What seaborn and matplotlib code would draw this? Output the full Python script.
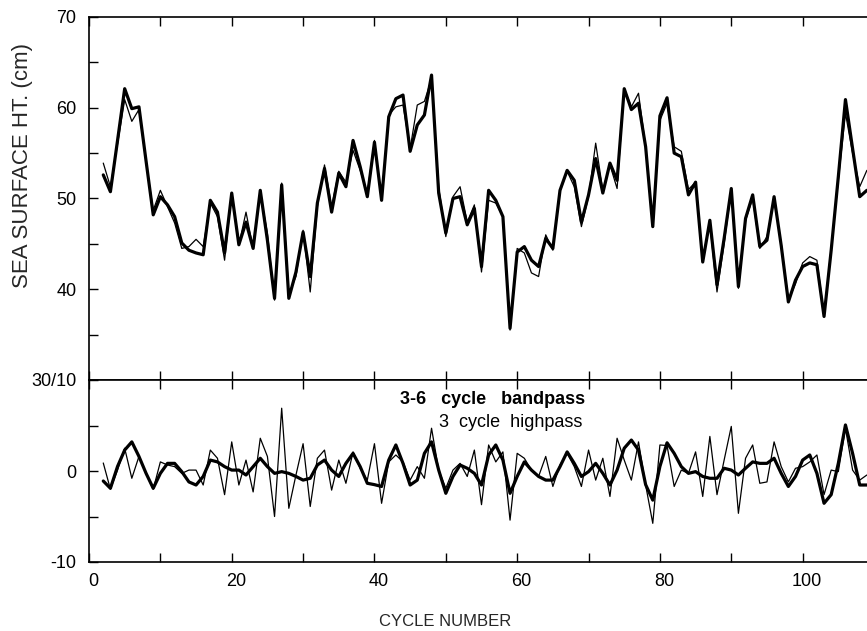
import numpy as np
import pandas as pd
import matplotlib
matplotlib.use("Agg")
import matplotlib.pyplot as plt
import matplotlib.transforms as mtransforms
from matplotlib.ticker import FixedLocator, MultipleLocator
import seaborn as sns

# ---------------- data ----------------
cycles = list(range(2, 110))

sea_thick = [52.6, 50.75, 56.4, 62.1, 59.9, 60.1, 54.1, 48.2, 50.2, 49.3,
             48.0, 45.1, 44.3, 44.0, 43.8, 49.8, 48.5, 44.0, 50.6, 44.9,
             47.4, 44.5, 50.9, 45.4, 39.0, 51.5, 39.0, 41.9, 46.3, 41.4,
             49.5, 53.3, 48.5, 52.8, 51.3, 56.4, 53.5, 50.2, 56.2, 49.8,
             59.0, 61.0, 61.4, 55.2, 58.1, 59.2, 63.6, 50.6, 46.2, 50.0,
             50.2, 47.1, 48.9, 42.5, 50.9, 49.8, 48.0, 35.7, 44.1, 44.7,
             43.2, 42.5, 45.6, 44.5, 50.9, 53.1, 52.0, 47.4, 50.4, 54.4,
             50.6, 53.9, 52.0, 62.1, 59.8, 60.5, 55.7, 46.9, 59.1, 61.1,
             55.0, 54.6, 50.4, 51.8, 43.0, 47.6, 40.5, 45.6, 51.1, 40.3,
             47.8, 50.4, 44.7, 45.4, 50.2, 44.8, 38.6, 41.0, 42.5, 42.9,
             42.7, 37.0, 44.3, 52.4, 60.9, 55.5, 50.2, 50.9]

sea_thin = [53.9, 51.3, 56.0, 60.9, 58.5, 59.8, 54.0, 48.7, 50.9, 49.1,
            47.3, 44.5, 44.7, 45.5, 44.7, 49.5, 48.0, 43.2, 50.6, 44.9,
            48.5, 44.5, 50.6, 46.2, 38.8, 51.7, 39.5, 41.4, 46.5, 39.7,
            49.1, 53.7, 49.1, 53.0, 51.8, 55.3, 53.1, 50.6, 56.4, 49.8,
            59.2, 60.1, 60.3, 55.5, 60.3, 60.7, 63.2, 51.3, 45.8, 50.2,
            51.3, 47.4, 49.3, 41.9, 49.8, 49.5, 48.0, 35.5, 44.5, 44.0,
            41.8, 41.4, 46.0, 44.3, 50.8, 53.0, 51.3, 46.9, 50.2, 56.1,
            50.9, 53.7, 51.1, 62.1, 60.1, 61.6, 55.7, 47.3, 58.6, 60.5,
            55.7, 55.2, 51.0, 51.8, 43.3, 47.2, 39.7, 45.0, 51.0, 40.1,
            47.6, 50.0, 44.5, 45.8, 49.8, 45.0, 38.8, 40.6, 42.9, 43.6,
            43.2, 37.2, 44.5, 52.0, 59.4, 55.0, 51.3, 53.1]

bandpass_3_6 = [-1.1, -1.9, 0.5, 2.3, 3.2, 1.6, -0.26, -1.9, -0.26, 0.84,
                0.84, -0.07, -1.2, -1.54, -0.6, 1.2, 1.0, 0.48, 0.1, 0.1,
                -0.44, 0.48, 1.4, 0.48, -0.26, -0.07, -0.26, -0.6, -1.0, -0.8,
                0.66, 1.2, 0.1, -0.6, 0.84, 1.94, 0.48, -1.35, -1.5, -1.7,
                1.2, 2.86, 0.84, -1.54, -1.0, 1.94, 3.2, 0.1, -2.45, -0.6,
                0.66, 0.3, -0.26, -1.54, 1.76, 2.86, 1.2, -2.45, -0.6, 1.0,
                0.1, -0.6, -1.0, -1.0, 0.48, 2.1, 0.84, -0.6, -0.07, 0.84,
                -0.26, -1.54, 0.1, 2.5, 3.4, 2.3, -1.5, -3.2, 0.5, 3.1,
                1.94, 0.48, -0.26, -0.07, -0.6, -0.8, -0.8, 0.3, 0.1, -0.44,
                0.3, 1.0, 0.84, 0.84, 1.4, -0.26, -1.7, -0.6, 1.2, 1.76,
                -0.26, -3.55, -2.6, 0.84, 5.06, 1.94, -1.54, -1.54]

highpass_3 = [0.88, -2.0, 0.1, 2.5, -0.8, 1.6, -0.3, -2.0, 1.0, 0.66,
              0.48, -0.26, 0.1, 0.1, -1.54, 2.3, 1.4, -2.6, 3.2, -1.54,
              1.2, -2.3, 3.6, 1.6, -5.0, 6.9, -4.1, -0.44, 3.0, -3.9,
              1.4, 2.3, -2.1, 1.2, -1.35, 2.1, 0.3, -1.0, 3.0, -3.55,
              1.0, 1.76, 1.0, -1.0, 0.48, -0.8, 4.7, 0.1, -1.9, 0.1,
              0.84, -0.6, 2.3, -3.7, 2.86, 1.0, 2.1, -5.4, 1.94, 1.4,
              0.1, -0.6, 1.6, -1.7, 0.66, 1.94, 0.48, -1.7, 2.3, -1.0,
              1.4, -2.8, 3.6, 1.2, -1.0, 3.2, -1.54, -5.75, 2.86, 2.8,
              -1.7, 0.1, -0.26, 2.1, -2.8, 3.8, -2.6, 1.2, 4.9, -4.65,
              1.4, 2.86, -1.35, -1.2, 3.2, 0.48, -1.2, 0.3, 0.48, 1.0,
              1.76, -2.6, 0.1, -0.07, 4.7, 0.1, -1.0, -0.44]

top_yticks = [30, 40, 50, 60, 70]
top_yticklabels = ["30/10", "40", "50", "60", "70"]
bot_yticks = [-10, 0, 10]
bot_yticklabels = ["-10", "0", ""]
bot_xticks = [0, 20, 40, 60, 80, 100]
bot_xticklabels = ["0", "20", "40", "60", "80", "100"]

# ---------------- style ----------------
sns.set_theme(style="ticks")
plt.rcParams['font.family'] = ['Liberation Sans', 'DejaVu Sans']
plt.rcParams['axes.edgecolor'] = 'black'
plt.rcParams['xtick.color'] = 'black'
plt.rcParams['ytick.color'] = 'black'
plt.rcParams['text.color'] = 'black'

W, H = 867, 631
fig = plt.figure(figsize=(W / 100, H / 100), dpi=100)
fig.patch.set_facecolor('white')

x0_px, x1_px = 89, 874          # axes extend slightly past the right edge (cropped)
top_px, mid_px, bot_px = 17, 380, 562
ax1 = fig.add_axes([x0_px / W, 1 - mid_px / H, (x1_px - x0_px) / W, (mid_px - top_px) / H])
ax2 = fig.add_axes([x0_px / W, 1 - bot_px / H, (x1_px - x0_px) / W, (bot_px - mid_px) / H])

df_top = pd.DataFrame({"cycle": cycles, "thick": sea_thick, "thin": sea_thin})
df_bot = pd.DataFrame({"cycle": cycles, "band": bandpass_3_6, "high": highpass_3})

sns.lineplot(data=df_top, x="cycle", y="thin", ax=ax1, color="black",
             linewidth=0.9, estimator=None)
sns.lineplot(data=df_top, x="cycle", y="thick", ax=ax1, color="black",
             linewidth=2.3, estimator=None)
sns.lineplot(data=df_bot, x="cycle", y="high", ax=ax2, color="black",
             linewidth=0.9, estimator=None)
sns.lineplot(data=df_bot, x="cycle", y="band", ax=ax2, color="black",
             linewidth=2.3, estimator=None)

for ax in (ax1, ax2):
    ax.set_xlim(0, 110)
    ax.set_facecolor('white')
    for s in ax.spines.values():
        s.set_linewidth(1.2)
        s.set_color('black')
    ax.set_xlabel("")
    ax.set_ylabel("")
    ax.tick_params(axis='both', which='both', direction='in', length=6.5,
                   width=1.0, top=True, bottom=True, left=True, right=False,
                   labelsize=13, colors='black')
    ax.tick_params(axis='y', pad=9)

# top panel
ax1.set_ylim(30, 70)
ax1.yaxis.set_major_locator(FixedLocator(top_yticks))
ax1.set_yticklabels(top_yticklabels)
ax1.yaxis.set_minor_locator(MultipleLocator(5))
ax1.xaxis.set_major_locator(MultipleLocator(10))
ax1.tick_params(axis='x', labelbottom=False, labeltop=False)
ax1.set_ylabel("SEA SURFACE HT. (cm)", fontsize=16, va='center')
ax1.yaxis.set_label_coords(-0.085, 0.59)

# bottom panel
ax2.set_ylim(-10, 10)
ax2.yaxis.set_major_locator(FixedLocator(bot_yticks))
ax2.set_yticklabels(bot_yticklabels)
ax2.yaxis.set_minor_locator(MultipleLocator(5))
ax2.xaxis.set_major_locator(FixedLocator(bot_xticks))
ax2.set_xticklabels(bot_xticklabels)
ax2.xaxis.set_minor_locator(MultipleLocator(10))
ax2.tick_params(axis='x', pad=8, labeltop=False)
ax2.set_xlabel("CYCLE NUMBER", fontsize=12, va='center')
ax2.xaxis.set_label_coords(0.4535, -0.325)

offset = mtransforms.ScaledTranslation(4 / 100, 0, fig.dpi_scale_trans)
for lab in ax2.get_xticklabels():
    lab.set_transform(lab.get_transform() + offset)

ax2.text(69.5, 7.9, "3-6   cycle   bandpass", ha='right', va='center',
         fontsize=13, fontweight='bold')
ax2.text(69.2, 5.3, "3  cycle  highpass", ha='right', va='center',
         fontsize=13)

fig.savefig("out.png", dpi=100, facecolor='white')
